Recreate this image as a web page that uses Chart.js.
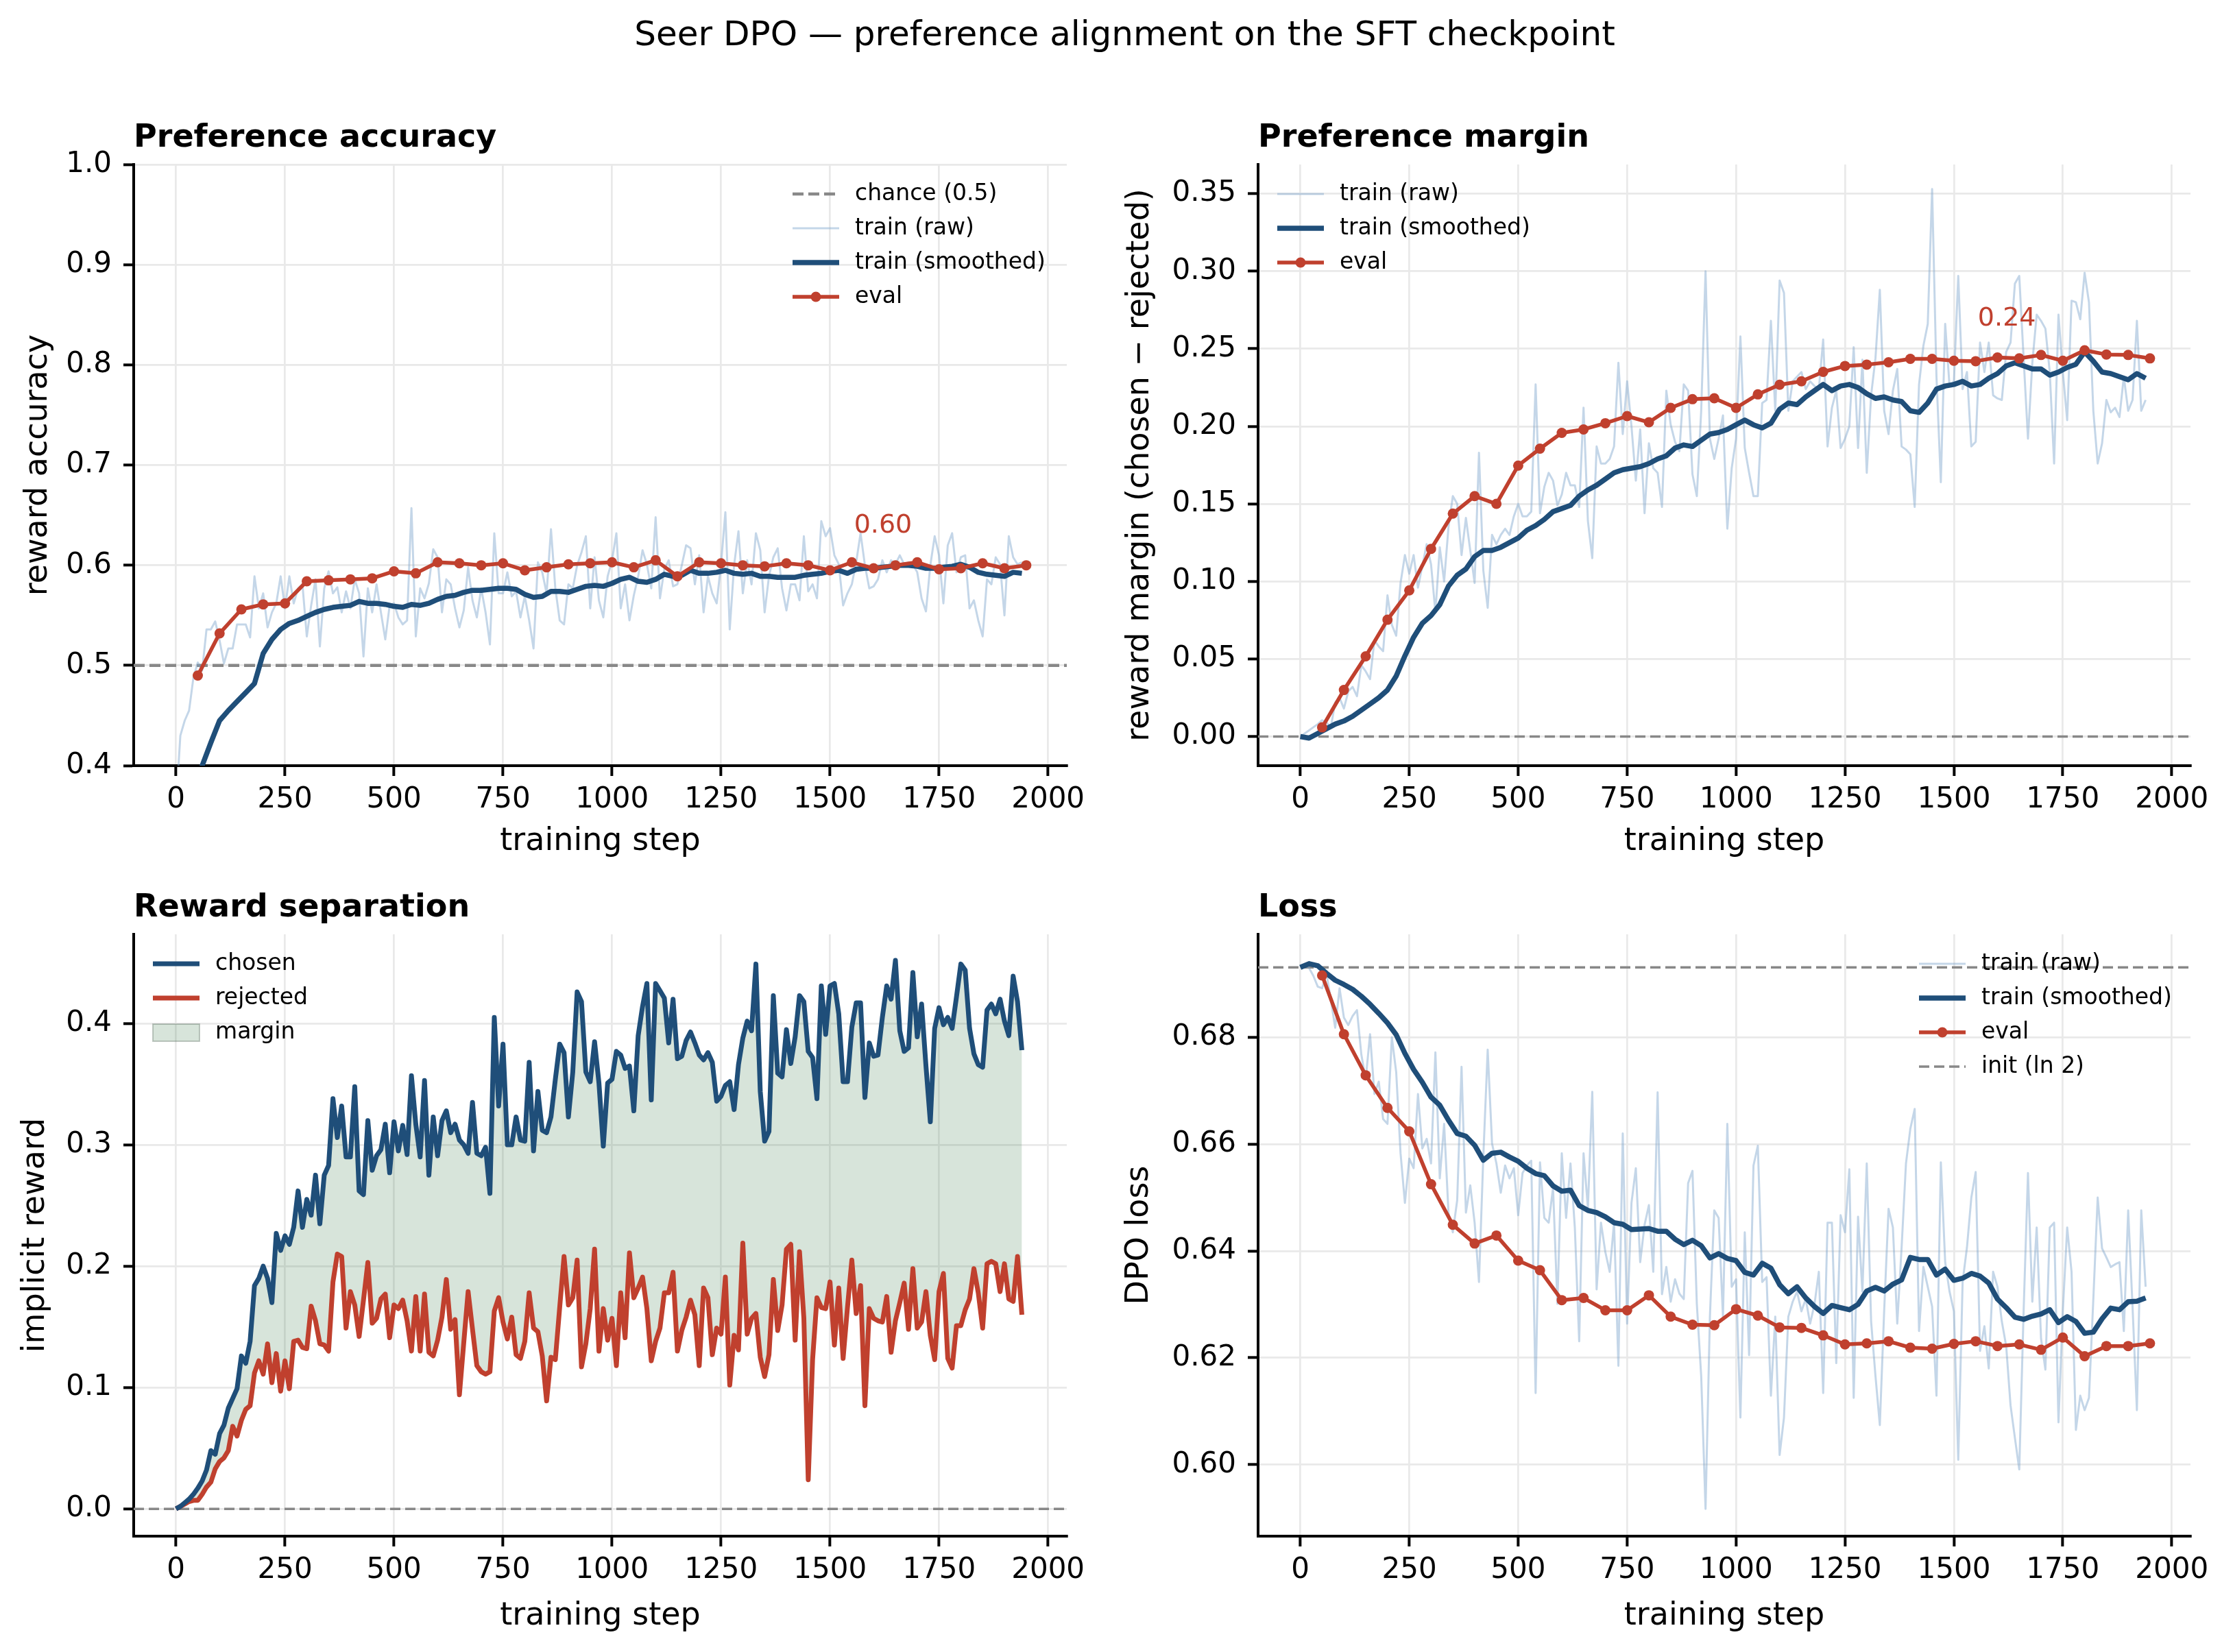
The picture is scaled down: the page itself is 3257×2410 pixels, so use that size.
<!DOCTYPE html>
<html>
<head>
<meta charset="utf-8">
<title>Seer DPO</title>
<script src="https://cdn.jsdelivr.net/npm/chart.js@4.4.1/dist/chart.umd.min.js"></script>
<style>
  html, body { margin: 0; padding: 0; background: #fff; }
  body { width: 3257px; height: 2410px; position: relative; overflow: hidden; }
  #suptitle {
    position: absolute; left: 12px; top: 24px; width: 3257px;
    text-align: center; font: 50px "DejaVu Sans"; line-height: 50px; color: #000;
  }
  canvas { position: absolute; }
</style>
</head>
<body>
<div id="suptitle">Seer DPO — preference alignment on the SFT checkpoint</div>
<canvas id="accChart" width="1630" height="1130" style="left:0px;top:150px"></canvas>
<canvas id="marginChart" width="1627" height="1130" style="left:1630px;top:150px"></canvas>
<canvas id="sepChart" width="1630" height="1130" style="left:0px;top:1280px"></canvas>
<canvas id="lossChart" width="1627" height="1130" style="left:1630px;top:1280px"></canvas>
<script>
// ---- shared axis data ----
const X_MIN = -97;
const X_MAX = 2043;
const X_TICKS = [0, 250, 500, 750, 1000, 1250, 1500, 1750, 2000];

// logged steps: train every 10, smoothed curve every 20, eval every 50
const STEPS = Array.from({ length: 195 }, (_, i) => i * 10);
const SMOOTH_STEPS = Array.from({ length: 98 }, (_, i) => i * 20);
const EVAL_STEPS = Array.from({ length: 39 }, (_, i) => (i + 1) * 50);

// ---- Preference accuracy ----
const ACC_TICKS = [0.4, 0.5, 0.6, 0.7, 0.8, 0.9, 1.0];
const accRaw = [
  .36,.43,.445,.455,.488,.503,.495,.536,.536,.544,
  .525,.502,.517,.517,.541,.541,.541,.528,.589,.557,
  .572,.538,.553,.562,.589,.557,.589,.562,.577,.581,
  .529,.560,.586,.519,.577,.594,.572,.578,.553,.574,
  .557,.586,.572,.509,.577,.553,.581,.553,.526,.560,
  .562,.548,.541,.545,.657,.529,.577,.567,.582,.616,
  .608,.553,.586,.581,.557,.538,.555,.598,.565,.548,
  .577,.553,.521,.632,.572,.572,.593,.569,.574,.548,
  .569,.545,.517,.603,.593,.572,.636,.577,.545,.541,
  .581,.577,.600,.613,.629,.557,.608,.565,.548,.589,
  .605,.632,.557,.581,.545,.570,.589,.615,.601,.577,
  .648,.567,.596,.605,.579,.581,.600,.620,.617,.581,
  .610,.553,.589,.572,.562,.601,.653,.536,.600,.634,
  .572,.605,.581,.632,.615,.553,.589,.608,.617,.577,
  .555,.581,.581,.565,.629,.574,.581,.567,.644,.629,
  .637,.610,.601,.560,.572,.581,.603,.632,.600,.577,
  .579,.586,.605,.593,.605,.601,.610,.601,.603,.601,
  .593,.567,.554,.600,.629,.610,.562,.620,.632,.593,
  .608,.610,.557,.565,.545,.529,.586,.581,.608,.601,
  .550,.629,.608,.601,.603
];
const accSmooth = [
  .28,.33,.37,.40,.423,.445,.455,.464,.473,.482,
  .512,.526,.536,.542,.545,.549,.553,.556,.558,.559,
  .560,.564,.562,.562,.561,.559,.558,.561,.560,.562,
  .566,.569,.570,.573,.575,.575,.576,.577,.577,.576,
  .571,.568,.569,.574,.574,.573,.576,.579,.580,.579,
  .582,.586,.588,.584,.583,.586,.591,.589,.590,.595,
  .592,.592,.593,.595,.592,.591,.592,.589,.589,.588,
  .588,.588,.590,.591,.592,.594,.595,.592,.596,.597,
  .597,.598,.599,.600,.600,.599,.597,.597,.598,.599,
  .601,.598,.593,.591,.590,.589,.593,.592
];
const accEval = [
  .490,.532,.556,.561,.562,.584,.585,.586,.587,.594,
  .592,.603,.602,.600,.602,.595,.598,.601,.602,.603,
  .598,.605,.589,.603,.602,.600,.599,.602,.600,.595,
  .603,.597,.600,.603,.596,.597,.602,.597,.600
];

// ---- Preference margin ----
const MARGIN_TICKS = [0, 0.05, 0.10, 0.15, 0.20, 0.25, 0.30, 0.35];
const marginRaw = [
  .000,.002,.004,.006,.008,.0105,.009,.006,.022,.025,
  .018,.029,.032,.026,.046,.042,.037,.062,.058,.055,
  .091,.072,.065,.099,.117,.105,.117,.096,.110,.124,
  .111,.080,.122,.100,.135,.155,.150,.117,.141,.120,
  .099,.183,.107,.083,.130,.124,.130,.134,.130,.142,
  .150,.142,.142,.145,.227,.144,.161,.170,.165,.149,
  .156,.170,.162,.162,.148,.212,.139,.115,.187,.176,
  .176,.179,.187,.241,.195,.229,.200,.165,.198,.144,
  .189,.173,.170,.148,.223,.201,.190,.184,.227,.223,
  .169,.155,.210,.300,.192,.179,.192,.207,.134,.173,
  .192,.258,.186,.170,.155,.155,.215,.217,.268,.210,
  .294,.286,.210,.229,.232,.235,.224,.229,.226,.224,
  .256,.187,.212,.223,.186,.192,.200,.251,.186,.243,
  .170,.220,.244,.288,.210,.195,.223,.237,.187,.185,
  .182,.148,.227,.252,.266,.353,.232,.164,.266,.226,
  .229,.297,.224,.235,.187,.190,.254,.235,.254,.220,
  .218,.217,.248,.254,.292,.297,.244,.192,.241,.272,
  .268,.263,.235,.176,.272,.235,.204,.281,.280,.269,
  .299,.280,.210,.176,.189,.217,.209,.212,.206,.232,
  .210,.217,.268,.210,.217
];
const marginSmooth = [
  .000,-.001,.002,.005,.008,.010,.013,.017,.021,.025,
  .030,.039,.052,.064,.073,.078,.085,.097,.104,.108,
  .116,.120,.120,.122,.125,.128,.133,.136,.140,.145,
  .147,.149,.155,.159,.162,.166,.170,.172,.173,.174,
  .176,.179,.181,.186,.188,.187,.191,.195,.196,.198,
  .201,.204,.201,.199,.202,.211,.215,.214,.219,.223,
  .227,.223,.226,.227,.225,.221,.218,.219,.217,.216,
  .210,.209,.215,.224,.226,.227,.229,.226,.227,.231,
  .234,.239,.241,.239,.237,.237,.233,.235,.238,.240,
  .248,.242,.235,.234,.232,.230,.234,.231
];
const marginEval = [
  .0059,.030,.0517,.0753,.0942,.121,.1437,.155,.150,.1747,
  .1856,.1958,.198,.202,.2066,.2026,.2119,.2175,.2181,.2119,
  .2206,.2268,.229,.2351,.2389,.2398,.2413,.2435,.2435,.2423,
  .242,.2444,.2438,.246,.2423,.249,.2463,.246,.2438
];

// ---- Reward separation ----
const SEP_TICKS = [0, 0.1, 0.2, 0.3, 0.4];
const chosenReward = [
  .000,.002,.005,.008,.012,.017,.023,.032,.048,.045,
  .062,.069,.083,.091,.099,.126,.120,.138,.184,.190,
  .200,.190,.170,.227,.213,.225,.218,.232,.262,.232,
  .255,.242,.275,.235,.275,.283,.338,.306,.332,.290,
  .290,.348,.262,.259,.320,.279,.291,.296,.317,.277,
  .319,.295,.316,.292,.357,.317,.290,.353,.275,.323,
  .291,.320,.328,.310,.317,.304,.300,.293,.335,.293,
  .291,.298,.260,.405,.332,.383,.300,.300,.323,.304,
  .303,.368,.295,.344,.312,.310,.323,.354,.383,.376,
  .323,.360,.426,.418,.360,.352,.385,.351,.299,.351,
  .354,.377,.374,.363,.365,.328,.390,.414,.433,.337,
  .433,.427,.421,.384,.420,.371,.373,.386,.393,.384,
  .374,.370,.376,.368,.336,.340,.349,.352,.329,.366,
  .388,.402,.394,.449,.344,.303,.311,.423,.359,.356,
  .395,.367,.389,.423,.418,.377,.372,.338,.431,.391,
  .431,.433,.408,.352,.352,.397,.417,.417,.339,.384,
  .373,.374,.405,.431,.420,.452,.394,.377,.380,.442,
  .389,.416,.365,.319,.396,.413,.399,.405,.396,.422,
  .449,.444,.396,.375,.366,.364,.411,.416,.408,.420,
  .402,.390,.439,.418,.378
];
const rejectedReward = [
  .000,.002,.004,.006,.007,.007,.012,.018,.022,.033,
  .039,.042,.048,.068,.060,.073,.082,.085,.112,.122,
  .111,.136,.104,.128,.097,.122,.099,.138,.139,.133,
  .132,.167,.155,.136,.135,.130,.187,.210,.208,.149,
  .179,.168,.142,.172,.203,.153,.157,.173,.177,.141,
  .168,.165,.172,.155,.130,.175,.130,.177,.129,.126,
  .139,.158,.189,.148,.156,.094,.137,.179,.148,.118,
  .113,.111,.113,.163,.174,.154,.140,.158,.127,.124,
  .138,.178,.149,.146,.126,.089,.125,.123,.166,.208,
  .168,.174,.205,.117,.136,.165,.214,.130,.165,.139,
  .157,.118,.178,.141,.211,.174,.182,.191,.165,.122,
  .138,.149,.178,.178,.195,.130,.147,.158,.172,.160,
  .118,.182,.174,.127,.149,.144,.191,.102,.143,.131,
  .219,.144,.157,.161,.125,.109,.127,.189,.147,.168,
  .214,.218,.139,.212,.157,.024,.123,.174,.166,.165,
  .187,.135,.182,.124,.166,.205,.161,.184,.085,.165,
  .157,.155,.154,.175,.129,.155,.170,.186,.148,.198,
  .149,.154,.179,.143,.123,.179,.194,.124,.116,.151,
  .151,.164,.173,.198,.178,.149,.202,.204,.202,.179,
  .202,.173,.171,.208,.160
];

// ---- Loss ----
const LOSS_TICKS = [0.60, 0.62, 0.64, 0.66, 0.68];
const LOSS_INIT = 0.6931;
const lossRaw = [
  .6931,.6935,.6930,.6915,.6895,.6892,.6920,.6870,.6818,.6892,
  .6837,.6823,.6840,.6851,.6768,.6721,.6806,.6694,.6717,.6647,
  .6638,.6800,.6735,.6583,.6490,.6573,.6555,.6694,.6592,.6610,
  .6564,.6772,.6536,.6638,.6472,.6435,.6495,.6745,.6472,.6523,
  .6453,.6342,.6578,.6777,.6601,.6564,.6509,.6560,.6536,.6555,
  .6467,.6546,.6560,.6569,.6134,.6566,.6462,.6453,.6518,.6301,
  .6583,.6462,.6564,.6444,.6231,.6583,.6481,.6698,.6328,.6453,
  .6398,.6361,.6453,.6185,.6620,.6264,.6490,.6555,.6379,.6449,
  .6486,.6361,.6697,.6319,.6370,.6305,.6347,.6320,.6310,.6527,
  .6550,.6301,.6166,.5917,.6277,.6476,.6462,.6277,.6638,.6333,
  .6347,.6088,.6435,.6205,.6560,.6597,.6342,.6351,.6129,.6277,
  .6018,.6088,.6277,.6305,.6324,.6287,.6310,.6264,.6300,.6361,
  .6134,.6453,.6453,.6190,.6467,.6435,.6553,.6125,.6464,.6324,
  .6564,.6268,.6166,.6074,.6289,.6479,.6444,.6264,.6407,.6564,
  .6629,.6666,.6250,.6370,.6333,.6296,.6129,.6566,.6379,.6324,
  .6287,.6009,.6342,.6407,.6500,.6548,.6213,.6259,.6180,.6361,
  .6333,.6268,.6222,.6111,.6050,.5991,.6287,.6546,.6305,.6444,
  .6236,.6178,.6444,.6453,.6079,.6287,.6444,.6361,.6065,.6129,
  .6102,.6125,.6310,.6500,.6405,.6388,.6370,.6375,.6379,.6250,
  .6476,.6296,.6102,.6476,.6333
];
const lossSmooth = [
  .6931,.6938,.6934,.6920,.6907,.6899,.6890,.6877,.6862,.6845,
  .6827,.6805,.6770,.6740,.6716,.6688,.6673,.6645,.6620,.6615,
  .6598,.6570,.6583,.6585,.6576,.6568,.6555,.6545,.6541,.6522,
  .6512,.6514,.6485,.6476,.6472,.6464,.6453,.6450,.6440,.6441,
  .6442,.6437,.6437,.6422,.6412,.6420,.6410,.6387,.6395,.6386,
  .6382,.6360,.6355,.6377,.6368,.6337,.6320,.6333,.6312,.6296,
  .6283,.6298,.6294,.6290,.6300,.6325,.6332,.6325,.6338,.6346,
  .6388,.6384,.6384,.6355,.6366,.6345,.6349,.6358,.6353,.6340,
  .6310,.6294,.6276,.6272,.6278,.6282,.6290,.6266,.6277,.6268,
  .6246,.6248,.6273,.6293,.6290,.6305,.6306,.6312
];
const lossEval = [
  .6916,.6806,.6729,.6668,.6624,.6525,.6449,.6414,.6429,.6382,
  .6364,.6308,.6312,.6289,.6289,.6317,.6277,.6262,.6261,.6291,
  .6279,.6257,.6256,.6242,.6225,.6227,.6231,.6219,.6217,.6226,
  .6231,.6222,.6225,.6215,.6238,.6203,.6222,.6222,.6227
];

// ---- styles ----
const NAVY = '#1f4e79';
const RED = '#c0402e';
const RAW = 'rgba(125,163,203,0.45)';
const GRAY = '#888888';
const GRID = '#e9e9e9';
const BAND = 'rgba(56,120,70,0.2)';
const FONT = '"DejaVu Sans"';

Chart.defaults.font.family = FONT;
Chart.defaults.color = '#000';

function pts(xs, ys) {
  return ys.map((y, i) => ({ x: xs[i], y: y }));
}

function lineSet(label, xs, ys, color, width, order, extra) {
  return Object.assign({
    label: label,
    data: pts(xs, ys),
    borderColor: color,
    backgroundColor: color,
    borderWidth: width,
    borderJoinStyle: 'round',
    pointRadius: 0,
    pointHoverRadius: 0,
    tension: 0,
    fill: false,
    order: order
  }, extra || {});
}

function evalSet(ys) {
  return lineSet('eval', EVAL_STEPS, ys, RED, 5.5, 0, {
    pointRadius: 7.5, pointBorderWidth: 0, pointBackgroundColor: RED
  });
}

function refLine(label, y, width, dash, order) {
  return lineSet(label, [X_MIN, X_MAX], [y, y], GRAY, width, order, { borderDash: dash, clip: false });
}

// titles, legends and end-value notes drawn inside each panel
const panelDecor = {
  id: 'panelDecor',
  afterDraw(chart, args, o) {
    const ctx = chart.ctx;
    const a = chart.chartArea;
    ctx.save();
    ctx.fillStyle = '#000';
    ctx.font = 'bold 46px ' + FONT;
    ctx.textAlign = 'left';
    ctx.textBaseline = 'alphabetic';
    ctx.fillText(o.title, a.left, a.top - 26);

    if (o.note) {
      ctx.font = '38px ' + FONT;
      ctx.fillStyle = RED;
      ctx.textBaseline = 'middle';
      const nx = chart.scales.x.getPixelForValue(o.note.x);
      const ny = chart.scales.y.getPixelForValue(o.note.y) - 58;
      ctx.fillText(o.note.text, nx, ny);
    }

    const L = o.legend;
    const x0 = L.fromRight ? a.right - L.dx : a.left + L.dx;
    ctx.font = '33px ' + FONT;
    ctx.textBaseline = 'middle';
    L.items.forEach((idx, i) => {
      const ds = chart.data.datasets[idx];
      const y = a.top + 43 + i * 50;
      if (ds.fill) {
        ctx.fillStyle = ds.backgroundColor;
        ctx.fillRect(x0, y - 12, 68, 25);
        ctx.strokeStyle = 'rgba(90,110,95,0.35)';
        ctx.lineWidth = 2;
        ctx.strokeRect(x0, y - 12, 68, 25);
      } else {
        ctx.strokeStyle = ds.borderColor;
        ctx.lineWidth = ds.borderWidth;
        ctx.setLineDash(ds.borderDash || []);
        ctx.beginPath();
        ctx.moveTo(x0, y);
        ctx.lineTo(x0 + 68, y);
        ctx.stroke();
        ctx.setLineDash([]);
        if (ds.pointRadius > 0) {
          ctx.fillStyle = ds.pointBackgroundColor;
          ctx.beginPath();
          ctx.arc(x0 + 34, y, ds.pointRadius, 0, Math.PI * 2);
          ctx.fill();
        }
      }
      ctx.fillStyle = '#000';
      ctx.fillText(ds.label, x0 + 91, y);
    });
    ctx.restore();
  }
};

function panelOptions(p) {
  return {
    responsive: false,
    animation: false,
    devicePixelRatio: 1,
    layout: { padding: { left: 0, top: p.top, right: p.right, bottom: 0 } },
    plugins: {
      legend: { display: false },
      tooltip: { enabled: false },
      panelDecor: p.decor
    },
    scales: {
      x: {
        type: 'linear',
        min: X_MIN,
        max: X_MAX,
        afterBuildTicks: s => { s.ticks = X_TICKS.map(v => ({ value: v })); },
        afterFit: s => { s.height = p.xHeight; },
        ticks: {
          autoSkip: false, maxRotation: 0, padding: 10,
          font: { size: 42 }, color: '#000',
          callback: v => v.toFixed(0)
        },
        grid: { color: GRID, lineWidth: 2.7, drawTicks: true, tickLength: 15, tickColor: '#000', tickWidth: 4 },
        border: { display: true, color: '#000', width: 4 },
        title: {
          display: true, text: 'training step', color: '#000',
          font: { size: 46, lineHeight: 1.2 }, padding: { top: 0, bottom: 24 }
        }
      },
      y: {
        type: 'linear',
        min: p.yMin,
        max: p.yMax,
        afterBuildTicks: s => { s.ticks = p.yTicks.map(v => ({ value: v })); },
        afterFit: s => { s.width = p.yWidth; },
        ticks: {
          autoSkip: false, padding: 17,
          font: { size: 42 }, color: '#000',
          callback: v => v.toFixed(p.digits)
        },
        grid: { color: GRID, lineWidth: 2.7, drawTicks: true, tickLength: 15, tickColor: '#000', tickWidth: 4 },
        border: { display: true, color: '#000', width: 4 },
        title: {
          display: true, text: p.yTitle, color: '#000',
          font: { size: 46, lineHeight: 1.2 }, padding: { top: p.yTitlePad, bottom: 0 }
        }
      }
    }
  };
}

// Preference accuracy
new Chart(document.getElementById('accChart'), {
  type: 'line',
  data: {
    datasets: [
      refLine('chance (0.5)', 0.5, 4.5, [16, 7], 3),
      lineSet('train (raw)', STEPS, accRaw, RAW, 3, 2, { clip: 0 }),
      lineSet('train (smoothed)', SMOOTH_STEPS, accSmooth, NAVY, 7.5, 1, { clip: 0 }),
      evalSet(accEval)
    ]
  },
  options: panelOptions({
    top: 90, right: 74, yWidth: 195, xHeight: 163,
    yMin: 0.4, yMax: 1.0, yTicks: ACC_TICKS, digits: 1,
    yTitle: 'reward accuracy', yTitlePad: 28,
    decor: {
      title: 'Preference accuracy',
      note: { x: 1555, y: accEval[accEval.length - 1], text: accEval[accEval.length - 1].toFixed(2) },
      legend: { fromRight: true, dx: 400, items: [0, 1, 2, 3] }
    }
  }),
  plugins: [panelDecor]
});

// Preference margin
new Chart(document.getElementById('marginChart'), {
  type: 'line',
  data: {
    datasets: [
      lineSet('train (raw)', STEPS, marginRaw, RAW, 3, 2),
      lineSet('train (smoothed)', SMOOTH_STEPS, marginSmooth, NAVY, 7.5, 1),
      evalSet(marginEval),
      refLine('zero', 0, 3.5, [15, 7], 3)
    ]
  },
  options: panelOptions({
    top: 90, right: 62, yWidth: 205, xHeight: 163,
    yMin: -0.0188, yMax: 0.3688, yTicks: MARGIN_TICKS, digits: 2,
    yTitle: 'reward margin (chosen − rejected)', yTitlePad: 5,
    decor: {
      title: 'Preference margin',
      note: { x: 1555, y: marginEval[marginEval.length - 1], text: marginEval[marginEval.length - 1].toFixed(2) },
      legend: { fromRight: false, dx: 28, items: [0, 1, 2] }
    }
  }),
  plugins: [panelDecor]
});

// Reward separation
new Chart(document.getElementById('sepChart'), {
  type: 'line',
  data: {
    datasets: [
      lineSet('chosen', STEPS, chosenReward, NAVY, 7, 1),
      lineSet('rejected', STEPS, rejectedReward, RED, 7, 1),
      lineSet('margin', STEPS, chosenReward, BAND, 0, 5, { fill: 1, backgroundColor: BAND }),
      refLine('zero', 0, 3.5, [15, 7], 4)
    ]
  },
  options: panelOptions({
    top: 83, right: 74, yWidth: 195, xHeight: 169,
    yMin: -0.0225, yMax: 0.4735, yTicks: SEP_TICKS, digits: 1,
    yTitle: 'implicit reward', yTitlePad: 24,
    decor: {
      title: 'Reward separation',
      legend: { fromRight: false, dx: 28, items: [0, 1, 2] }
    }
  }),
  plugins: [panelDecor]
});

// Loss
new Chart(document.getElementById('lossChart'), {
  type: 'line',
  data: {
    datasets: [
      lineSet('train (raw)', STEPS, lossRaw, RAW, 3, 2),
      lineSet('train (smoothed)', SMOOTH_STEPS, lossSmooth, NAVY, 7.5, 1),
      evalSet(lossEval),
      refLine('init (ln 2)', LOSS_INIT, 3.5, [15, 7], 3)
    ]
  },
  options: panelOptions({
    top: 83, right: 62, yWidth: 205, xHeight: 169,
    yMin: 0.5866, yMax: 0.6993, yTicks: LOSS_TICKS, digits: 2,
    yTitle: 'DPO loss', yTitlePad: 4,
    decor: {
      title: 'Loss',
      legend: { fromRight: true, dx: 396, items: [0, 1, 2, 3] }
    }
  }),
  plugins: [panelDecor]
});
</script>
</body>
</html>
